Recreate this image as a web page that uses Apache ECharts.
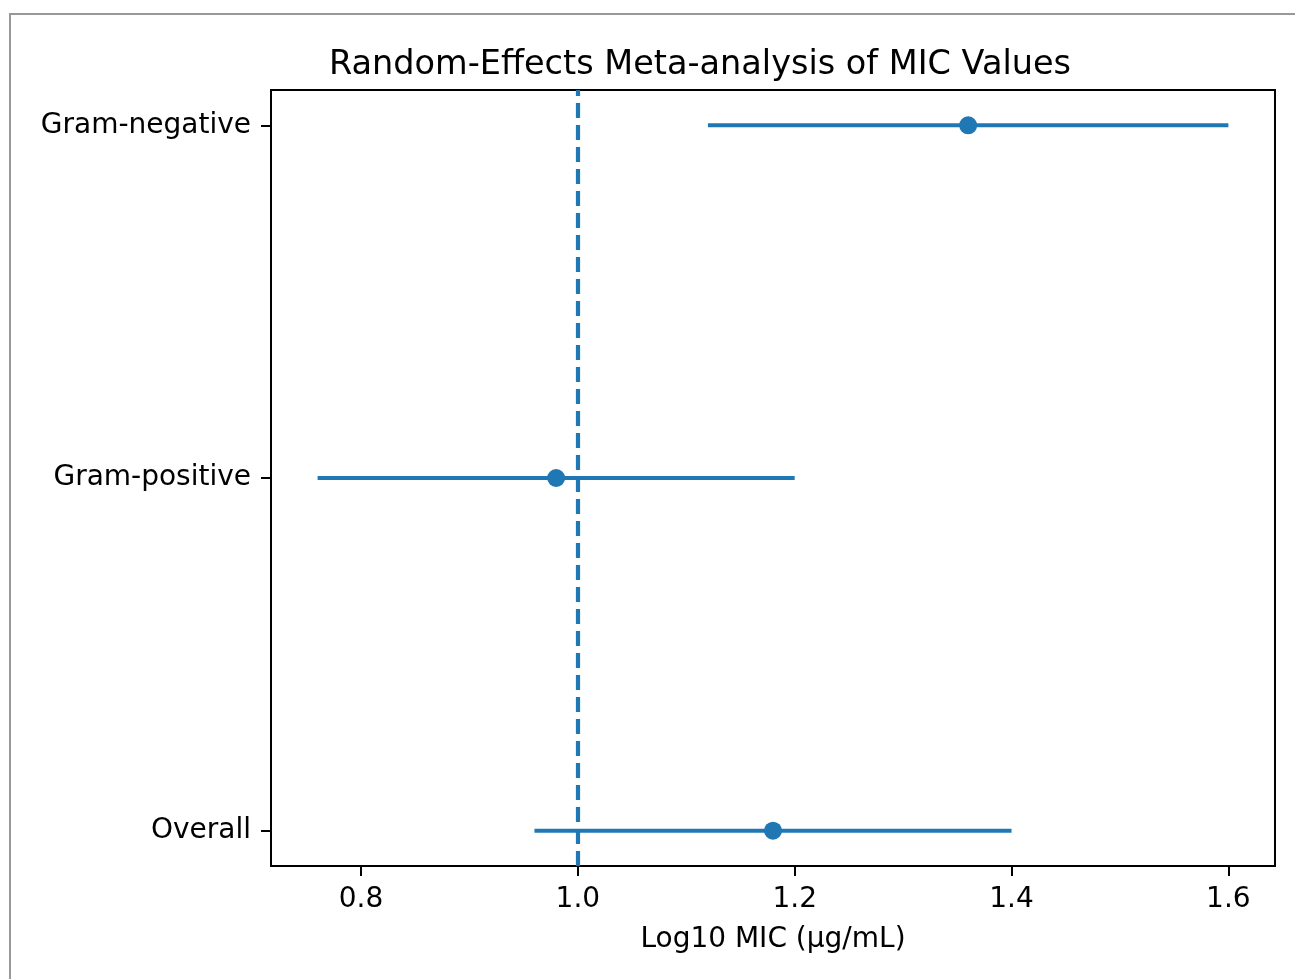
<!doctype html>
<html>
<head>
<meta charset="UTF-8">
<title>Random-Effects Meta-analysis of MIC Values</title>
<script src="https://cdn.jsdelivr.net/npm/echarts@6/dist/echarts.min.js"></script>
<style>
  html, body { margin: 0; padding: 0; background: #fff; }
  #main { width: 1295px; height: 979px; }
</style>
</head>
<body>
<div id="main"></div>
<script type="text/javascript">
// groups, bottom to top (y = 0, 1, 2)
var groups = ['Overall', 'Gram-positive', 'Gram-negative'];
var means = [1.18, 0.98, 1.36];
var ciLow = [0.96, 0.76, 1.12];
var ciHigh = [1.40, 1.20, 1.60];
var xTicks = [0.8, 1.0, 1.2, 1.4, 1.6];
var refValue = 1.0;

var blue = '#1f77b4';
var font = 'DejaVu Sans';

var barData = [], dotData = [];
for (var i = 0; i < groups.length; i++) {
  barData.push([ciLow[i], ciHigh[i], i]);
  dotData.push([means[i], i]);
}

var chart = echarts.init(document.getElementById('main'));
chart.setOption({
  animation: false,
  title: {
    text: 'Random-Effects Meta-analysis of MIC Values',
    left: 695, top: 43, textAlign: 'center',
    textStyle: { fontFamily: font, fontSize: 33.5, fontWeight: 'normal', color: '#000' }
  },
  graphic: [{
    type: 'rect', shape: { x: 10, y: 14, width: 1300, height: 980 },
    style: { fill: 'none', stroke: '#999', lineWidth: 2 }, silent: true
  }],
  grid: { left: 271, right: 20, top: 90, bottom: 113, show: true, borderColor: '#000', borderWidth: 2, backgroundColor: 'transparent' },
  xAxis: {
    type: 'value', min: 0.717, max: 1.643,
    name: 'Log10 MIC (µg/mL)', nameLocation: 'middle', nameGap: 60,
    nameTextStyle: { fontFamily: font, fontSize: 28, color: '#000' },
    axisLine: { show: true, onZero: false, lineStyle: { color: '#000', width: 2 } },
    axisTick: { show: true, inside: false, length: 10, lineStyle: { color: '#000', width: 2 }, customValues: xTicks },
    axisLabel: { fontFamily: font, fontSize: 28, color: '#000', margin: 20, customValues: xTicks,
      formatter: function (v) { return v.toFixed(1); } },
    splitLine: { show: false }
  },
  yAxis: {
    type: 'value', min: -0.1, max: 2.1,
    axisLine: { show: true, onZero: false, lineStyle: { color: '#000', width: 2 } },
    axisTick: { show: true, inside: false, length: 10, lineStyle: { color: '#000', width: 2 }, customValues: [0, 1, 2] },
    axisLabel: { fontFamily: font, fontSize: 28, color: '#000', margin: 20, customValues: [0, 1, 2],
      formatter: function (v) { return groups[Math.round(v)] || ''; } },
    splitLine: { show: false }
  },
  series: [
    {
      type: 'custom',
      data: barData,
      renderItem: function (params, api) {
        var a = api.coord([api.value(0), api.value(2)]);
        var b = api.coord([api.value(1), api.value(2)]);
        return { type: 'line', shape: { x1: a[0], y1: a[1], x2: b[0], y2: b[1] },
          style: { stroke: blue, lineWidth: 4.2 } };
      },
      encode: { x: [0, 1], y: 2 },
      z: 2
    },
    {
      type: 'scatter',
      data: dotData,
      symbol: 'circle', symbolSize: 18,
      itemStyle: { color: blue, opacity: 1 },
      z: 3,
      markLine: {
        silent: true, symbol: 'none', label: { show: false },
        lineStyle: { color: blue, type: [15, 7], width: 4.2 },
        data: [{ xAxis: refValue }]
      }
    }
  ]
});
</script>
</body>
</html>
